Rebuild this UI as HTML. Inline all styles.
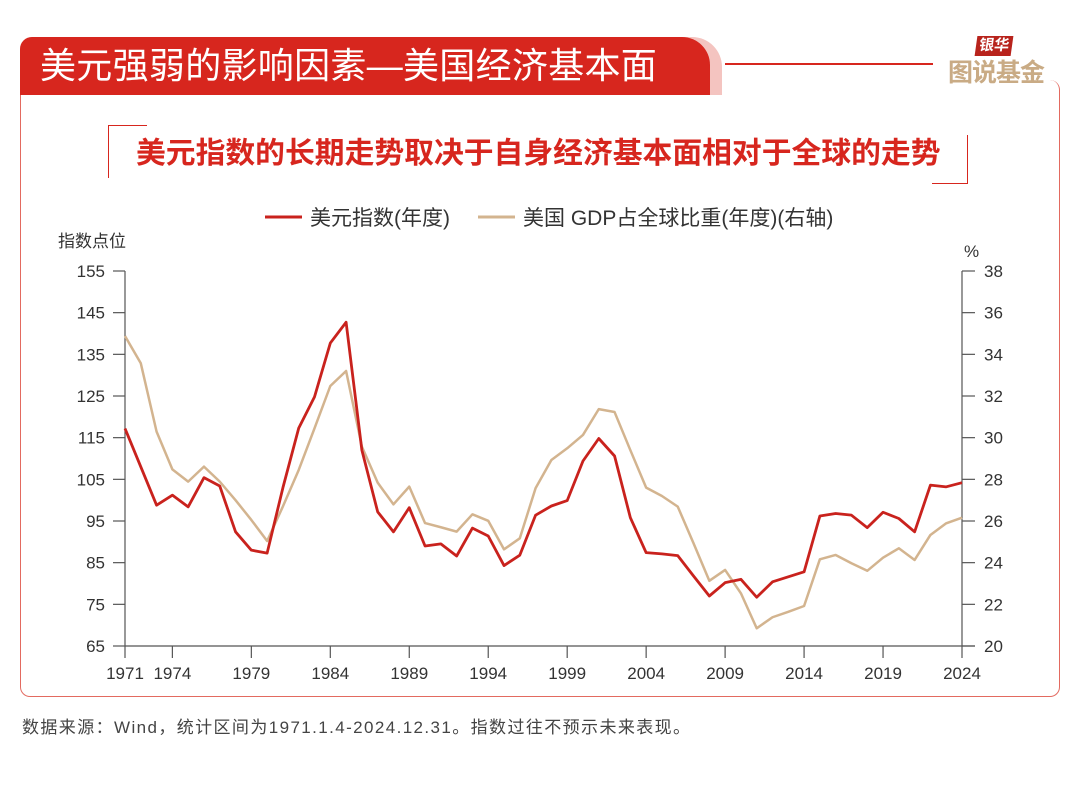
<!DOCTYPE html>
<html><head><meta charset="utf-8"><style>
body{margin:0;width:1080px;height:792px;background:#fff;font-family:"Liberation Sans","Noto Sans CJK SC",sans-serif;position:relative;overflow:hidden}
.abs{position:absolute}
</style></head><body>
<div class="abs" style="left:20px;top:80px;width:1038px;height:616px;border:1.5px solid #e36a60;border-radius:10px;border-top:none"></div>
<div class="abs" style="left:20px;top:37px;width:702px;height:58px;background:#f4c4c0;border-radius:12px 30px 0 0"></div>
<div class="abs" style="left:20px;top:37px;width:690px;height:58px;background:#d7261e;border-radius:12px 28px 0 0"></div>
<div class="abs" style="left:40px;top:43px;font-size:36px;color:#fff;line-height:46px;letter-spacing:0.3px;white-space:nowrap">美元强弱的影响因素—美国经济基本面</div>
<div class="abs" style="left:725px;top:63px;width:208px;height:1.5px;background:#d7261e"></div>
<div class="abs" style="left:976px;top:36px;background:#b8231c;color:#fff;font-size:15px;font-weight:bold;padding:0 3px;line-height:20px;transform:skewX(-8deg)">银华</div>
<div class="abs" style="left:948px;top:58px;color:#c9ab85;font-size:25px;font-weight:bold;line-height:30px;letter-spacing:-1px">图说基金</div>
<div class="abs" style="left:108px;top:125px;width:38px;height:52px;border-left:1.5px solid #d7261e;border-top:1.5px solid #d7261e"></div>
<div class="abs" style="left:932px;top:135px;width:35px;height:48px;border-right:1.5px solid #d7261e;border-bottom:1.5px solid #d7261e"></div>
<div class="abs" style="left:136px;top:135px;font-size:29.8px;font-weight:bold;color:#d7261e;line-height:38px;white-space:nowrap">美元指数的长期走势取决于自身经济基本面相对于全球的走势</div>
<svg class="abs" style="left:0;top:0" width="1080" height="792" id="chart"></svg>
<div class="abs" style="left:22px;top:716px;font-size:17px;color:#444;line-height:24px;letter-spacing:1.4px;white-space:nowrap">数据来源：Wind，统计区间为1971.1.4-2024.12.31。指数过往不预示未来表现。</div>
<script>
const years=[];for(let y=1971;y<=2024;y++)years.push(y);
const dxy=[117.2,108,98.8,101.2,98.4,105.4,103.4,92.4,88,87.3,103,117.3,124.8,137.7,142.7,112,97.2,92.4,98.2,89,89.5,86.6,93.3,91.4,84.3,86.8,96.4,98.6,99.9,109.4,114.8,110.6,95.8,87.4,87.1,86.7,81.8,77,80.2,81,76.7,80.4,81.6,82.8,96.2,96.8,96.4,93.4,97.1,95.6,92.4,103.6,103.2,104.2];
const gdp=[34.88,33.57,30.29,28.48,27.89,28.61,27.89,27.0,26.05,25.04,26.7,28.45,30.45,32.48,33.2,29.57,27.84,26.8,27.65,25.9,25.7,25.49,26.32,26.01,24.64,25.17,27.58,28.93,29.49,30.13,31.37,31.23,29.4,27.6,27.2,26.69,24.93,23.13,23.65,22.53,20.85,21.38,21.64,21.92,24.16,24.37,23.97,23.61,24.24,24.69,24.13,25.33,25.89,26.16];
const leftTicks=[65,75,85,95,105,115,125,135,145,155];
const rightTicks=[20,22,24,26,28,30,32,34,36,38];
const xTicks=[1971,1974,1979,1984,1989,1994,1999,2004,2009,2014,2019,2024];
const X0=125,X1=962,Y0=646,Y1=271;
const xs=y=>X0+(y-1971)/(2024-1971)*(X1-X0);
const yl=v=>Y0-(v-65)/(155-65)*(Y0-Y1);
const yr=v=>Y0-(v-20)/(38-20)*(Y0-Y1);
const svg=document.getElementById('chart');const NS='http://www.w3.org/2000/svg';
function mk(t,a,p){const e=document.createElementNS(NS,t);for(const k in a)e.setAttribute(k,a[k]);(p||svg).appendChild(e);return e;}
const ax='#555';
let e;
e=mk('line',{x1:X0,y1:Y1,x2:X0,y2:Y0,stroke:ax,'stroke-width':1.2});


e=mk('line',{x1:X1,y1:Y1,x2:X1,y2:Y0,stroke:ax,'stroke-width':1.2});


e=mk('line',{x1:X0,y1:Y0,x2:X1+13,y2:Y0,stroke:ax,'stroke-width':1.2});


leftTicks.forEach(v=>{mk('line',{x1:X0-12,y1:yl(v),x2:X0,y2:yl(v),stroke:ax,'stroke-width':1.2});
e=mk('text',{x:X0-20,y:yl(v)+6,'text-anchor':'end','font-size':17,fill:'#333'});e.textContent=v;

});
rightTicks.forEach(v=>{mk('line',{x1:X1,y1:yr(v),x2:X1+13,y2:yr(v),stroke:ax,'stroke-width':1.2});
e=mk('text',{x:X1+22,y:yr(v)+6,'font-size':17,fill:'#333'});e.textContent=v;

});
xTicks.forEach(v=>{mk('line',{x1:xs(v),y1:Y0,x2:xs(v),y2:Y0+12,stroke:ax,'stroke-width':1.2});
e=mk('text',{x:xs(v),y:Y0+33,'text-anchor':'middle','font-size':17,fill:'#333'});e.textContent=v;

});
e=mk('text',{x:58,y:247,'font-size':17,fill:'#333'});e.textContent='指数点位';


e=mk('text',{x:964,y:257,'font-size':17,fill:'#333'});e.textContent='%';


e=mk('polyline',{points:years.map((y,i)=>xs(y)+','+yr(gdp[i])).join(' '),fill:'none',stroke:'#d3b48f','stroke-width':2.5,'stroke-linejoin':'round'});


e=mk('polyline',{points:years.map((y,i)=>xs(y)+','+yl(dxy[i])).join(' '),fill:'none',stroke:'#c9221d','stroke-width':2.8,'stroke-linejoin':'round'});


e=mk('line',{x1:265,y1:217,x2:302,y2:217,stroke:'#c9221d','stroke-width':3});


e=mk('text',{x:310,y:225,'font-size':21,fill:'#333'});e.textContent='美元指数(年度)';


e=mk('line',{x1:478,y1:217,x2:515,y2:217,stroke:'#d3b48f','stroke-width':3});


e=mk('text',{x:523,y:225,'font-size':21,fill:'#333'});e.textContent='美国 GDP占全球比重(年度)(右轴)';


</script>
</body></html>
